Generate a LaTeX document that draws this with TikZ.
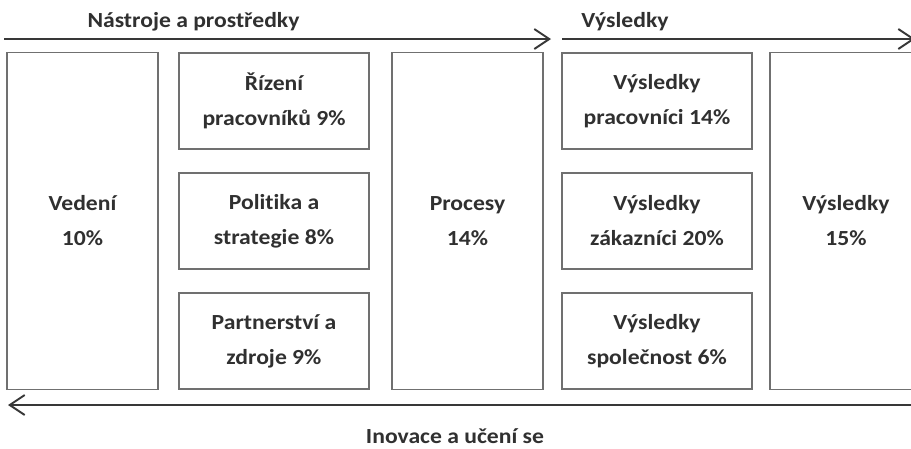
\documentclass[tikz,border=0pt]{standalone}
\usepackage{fontspec}
\setmainfont{Carlito}[FakeStretch=1.1, Ligatures=NoCommon]
\usepackage{tikz}
\usetikzlibrary{arrows.meta}
\definecolor{boxgray}{HTML}{707070}
\definecolor{arrowgray}{HTML}{383838}
\definecolor{textgray}{HTML}{303030}
\tikzset{
    plain-box/.style = {draw=boxgray, fill=white, line width=1.5pt, rectangle, inner sep=0pt, align=center, text=textgray, font=\bfseries\fontsize{21.5}{35}\selectfont},
    flow-arrow/.style = {draw=arrowgray, line width=1.9pt, -{Straight Barb[length=15pt, width=20pt, line width=1.9pt]}},
    flow-label/.style = {anchor=base, text=textgray, inner sep=0pt, font=\bfseries\fontsize{21.5}{26}\selectfont},
}

\begin{document}
\begin{tikzpicture}[x=1pt, y=-1pt]
\clip (0,0) rectangle (911,448);
\fill[white] (0,0) rectangle (911,448);

% the five columns
\node [plain-box, minimum width=151pt, minimum height=337pt] (vedeni) at (82.5,221) {Vedení\\10\%};
\node [plain-box, minimum width=190pt, minimum height=96pt] (rizeni) at (274,101) {Řízení\\pracovníků 9\%};
\node [plain-box, minimum width=190pt, minimum height=96pt] (politika) at (274,221) {Politika a\\strategie 8\%};
\node [plain-box, minimum width=190pt, minimum height=96pt] (partnerstvi) at (274,341) {Partnerství a\\zdroje 9\%};
\node [plain-box, minimum width=151pt, minimum height=337pt] (procesy) at (467.5,221) {Procesy\\14\%};
\node [plain-box, minimum width=190pt, minimum height=96pt] (vpracovnici) at (657,101) {Výsledky\\pracovníci 14\%};
\node [plain-box, minimum width=190pt, minimum height=96pt] (vzakaznici) at (657,221) {Výsledky\\zákazníci 20\%};
\node [plain-box, minimum width=190pt, minimum height=96pt] (vspolecnost) at (657,341) {Výsledky\\společnost 6\%};
\node [plain-box, minimum width=152pt, minimum height=337pt] (vysledky) at (846,221) {Výsledky\\15\%};

% arrows and their labels
\coordinate (nastroje-start) at (4,39);
\coordinate (nastroje-end) at (551,39);
\coordinate (vysledky-start) at (562,39);
\coordinate (vysledky-end) at (915,39);
\coordinate (inovace-start) at (925,405);
\coordinate (inovace-end) at (8,405);
\draw [flow-arrow] (nastroje-start) -- (nastroje-end);
\draw [flow-arrow] (vysledky-start) -- (vysledky-end);
\draw [flow-arrow] (inovace-start) -- (inovace-end);
\node [flow-label] (nastroje) at (193.5,27) {Nástroje a prostředky};
\node [flow-label] (vysledky-label) at (625,27) {Výsledky};
\node [flow-label] (inovace) at (455,443) {Inovace a učení se};
\end{tikzpicture}
\end{document}
